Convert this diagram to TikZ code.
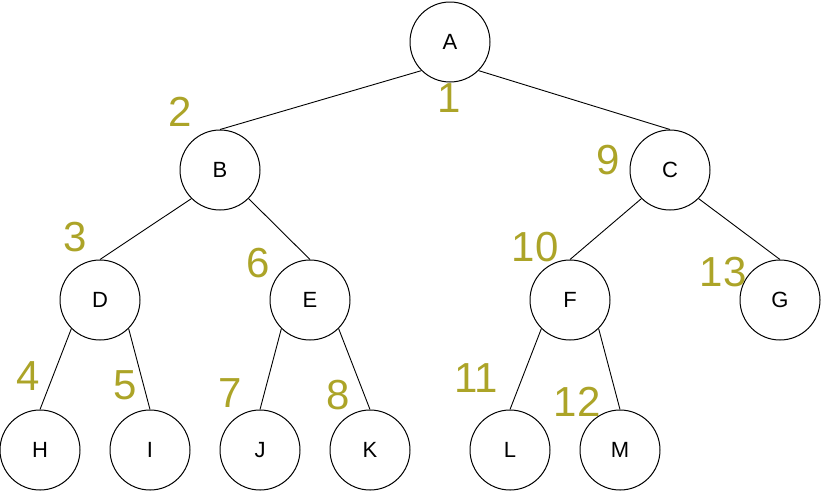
\documentclass[tikz,border=0pt]{standalone}
\usepackage{fontspec}
\setmainfont{Liberation Sans}
\usetikzlibrary{positioning}
\definecolor{OrderColor}{RGB}{172,164,40}
\tikzset{
  vert/.style={draw, circle, minimum size=80pt, inner sep=0pt, line width=1pt, font=\fontsize{22}{22}\selectfont},
  order/.style={text=OrderColor, inner sep=0pt, font=\fontsize{42}{42}\selectfont},
  edge/.style={line width=0.9pt}
}
\begin{document}
\begin{tikzpicture}[x=1pt, y=-1pt]
  \useasboundingbox (0,0) rectangle (821,491);
  % tree nodes
  \node[vert] (A) at (450,42) {A};
  \node[vert] (B) at (220,170) {B};
  \node[vert] (C) at (670,170) {C};
  \node[vert] (D) at (100,300) {D};
  \node[vert] (E) at (310,300) {E};
  \node[vert] (F) at (570,300) {F};
  \node[vert] (G) at (780,300) {G};
  \node[vert] (H) at (40,450) {H};
  \node[vert] (I) at (150,450) {I};
  \node[vert] (J) at (260,450) {J};
  \node[vert] (K) at (370,450) {K};
  \node[vert] (L) at (510,450) {L};
  \node[vert] (M) at (620,450) {M};

  % edges
  \draw[edge] (A.225) -- (B.north);
  \draw[edge] (A.-45) -- (C.north);
  \draw[edge] (B.225) -- (D.north);
  \draw[edge] (B.-45) -- (E.north);
  \draw[edge] (C.225) -- (F.north);
  \draw[edge] (C.-45) -- (G.north);
  \draw[edge] (D.225) -- (H.north);
  \draw[edge] (D.-45) -- (I.north);
  \draw[edge] (E.225) -- (J.north);
  \draw[edge] (E.-45) -- (K.north);
  \draw[edge] (F.225) -- (L.north);
  \draw[edge] (F.-45) -- (M.north);

  % visiting order
  \node[order] (n1) at (449,98) {1};
  \node[order] (n2) at (180,112) {2};
  \node[order] (n3) at (75,237) {3};
  \node[order] (n4) at (28,376) {4};
  \node[order] (n5) at (125,385) {5};
  \node[order] (n6) at (258,263) {6};
  \node[order] (n7) at (230,393) {7};
  \node[order] (n8) at (338,395) {8};
  \node[order] (n9) at (608,160) {9};
  \node[order] (n10) at (535,247) {10};
  \node[order] (n11) at (476,378) {11};
  \node[order] (n12) at (577,402) {12};
  \node[order] (n13) at (723,272) {13};
\end{tikzpicture}
\end{document}
